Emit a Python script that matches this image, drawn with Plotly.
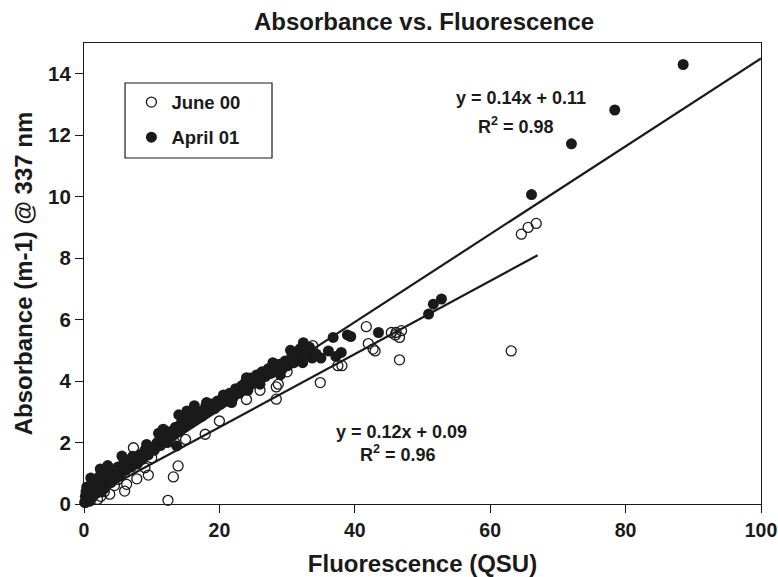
import plotly.graph_objects as go

# ---- data ----
april_x = [0.1, 0.2, 0.3, 0.5, 0.6, 0.8, 1.0, 1.2, 1.4, 1.6, 1.8, 2.0, 2.3, 2.5, 2.8, 3.0, 0.4, 0.9,
           3.3, 3.6, 4.0, 4.3, 4.7, 5.0, 5.4, 5.8, 6.2, 6.5, 7.0, 7.4, 7.8, 8.2, 8.6, 9.0, 9.5, 9.9,
           10.4, 10.8, 11.3, 11.7, 12.1, 12.6, 13.0, 13.5, 13.9, 14.3, 14.8, 15.2, 15.6, 16.0, 16.5,
           17.0, 17.4, 17.9, 18.3, 18.8, 19.3, 19.7, 14.0, 16.3, 13.7,
           20.2, 20.6, 21.1, 21.5, 22.0, 22.4, 22.9, 23.3, 23.8, 24.2, 24.6, 25.0, 25.5, 25.9, 26.3,
           26.8, 27.2, 27.6, 28.0, 28.5, 28.9, 29.3, 29.7, 30.1, 30.6, 31.0, 31.5, 31.9, 32.3, 32.8,
           33.3, 33.7, 34.3, 36.1, 36.8, 38.0, 38.9, 39.4, 43.5, 50.9, 51.6, 52.8,
           66.1, 72.0, 78.4, 88.5,
           2.2, 4.5, 6.8, 8.0, 11.0, 12.3, 15.0, 18.0, 21.8, 24.0, 26.0, 29.0, 31.2, 35.0, 37.2,
           2.4, 5.6, 9.25, 11.7, 15.2, 18.1, 20.6, 24.0, 27.9, 30.5, 32.4, 1.0, 3.5, 7.2]
april_y = [0.05, 0.25, 0.4, 0.15, 0.5, 0.3, 0.6, 0.2, 0.45, 0.75, 0.35, 0.55, 0.9, 0.4, 0.7, 0.5, 0.55, 0.1,
           0.85, 1.0, 0.7, 1.05, 0.9, 1.2, 0.95, 1.3, 1.1, 1.4, 1.2, 1.5, 1.3, 1.6, 1.45, 1.75, 1.6, 1.85,
           1.75, 2.0, 1.9, 2.2, 2.05, 2.35, 2.2, 2.5, 2.35, 2.6, 2.5, 2.85, 2.65, 2.9, 2.75,
           3.0, 2.85, 3.1, 3.0, 3.25, 3.1, 3.35, 2.9, 3.2, 1.89,
           3.25, 3.5, 3.35, 3.6, 3.45, 3.75, 3.6, 3.85, 3.95, 3.7, 4.1, 3.95, 4.2, 4.05, 4.3,
           4.15, 4.4, 4.25, 4.5, 4.35, 4.55, 4.4, 4.65, 4.5, 4.75, 4.6, 4.85, 5.05, 4.6, 4.9,
           5.1, 4.75, 4.88, 4.98, 5.42, 4.93, 5.5, 5.45, 5.58, 6.18, 6.5, 6.67,
           10.07, 11.72, 12.82, 14.3,
           0.6, 0.85, 1.45, 1.35, 2.3, 2.0, 2.6, 3.2, 3.3, 4.0, 3.9, 4.2, 4.9, 4.75, 4.8,
           1.14, 1.56, 1.94, 2.4, 3.03, 3.3, 3.55, 4.11, 4.6, 5.0, 5.25, 0.85, 1.25, 1.55]

june_x = [0.2, 0.5, 0.8, 1.0, 1.5, 2.0, 2.5, 3.0, 3.8, 4.5, 5.0, 6.0, 6.3, 7.3, 7.8, 9.0, 9.5,
          10.0, 11.7, 12.4, 13.2, 13.4, 13.9, 15.0, 17.9, 20.0, 24.0, 26.0, 28.4, 28.4, 28.7, 30.0,
          33.8, 34.9, 37.5, 38.1, 41.7, 42.0, 42.7, 43.0, 45.4, 46.0, 46.1, 46.6, 46.9, 46.6,
          63.1, 64.6, 65.6, 66.8]
june_y = [0.05, 0.3, 0.1, 0.2, 0.35, 0.15, 0.25, 0.4, 0.32, 0.6, 0.8, 0.42, 0.64, 1.83, 0.82, 1.18, 0.94,
          1.5, 2.43, 0.12, 0.88, 2.0, 1.24, 2.1, 2.27, 2.7, 3.4, 3.7, 3.81, 3.41, 3.9, 4.3,
          5.15, 3.95, 4.5, 4.5, 5.77, 5.22, 5.04, 4.98, 5.58, 5.5, 5.58, 5.42, 5.64, 4.69,
          4.98, 8.78, 9.0, 9.13]

# regression lines: slope, intercept, x extent
april_fit = dict(slope=0.143, intercept=0.2, x=[0, 100])
june_fit = dict(slope=0.119, intercept=0.12, x=[0, 67])

xticks = [0, 20, 40, 60, 80, 100]
yticks = [0, 2, 4, 6, 8, 10, 12, 14]

FONT = "Liberation Sans, Arial, sans-serif"
INK = "#1a1a1a"

fig = go.Figure()

for fit in (april_fit, june_fit):
    fig.add_trace(go.Scatter(
        x=fit["x"], y=[fit["slope"] * v + fit["intercept"] for v in fit["x"]],
        mode="lines", line=dict(color=INK, width=2.2), showlegend=False,
        hoverinfo="skip", cliponaxis=False))

fig.add_trace(go.Scatter(
    x=june_x, y=june_y, mode="markers", name="June 00",
    marker=dict(symbol="circle-open", size=10, color=INK, line=dict(width=1.3)),
    cliponaxis=False, legendgroup="j", legendrank=1))
fig.add_trace(go.Scatter(
    x=april_x, y=april_y, mode="markers", name="April 01",
    marker=dict(symbol="circle", size=11, color=INK, line=dict(width=0)),
    cliponaxis=False, legendgroup="a", legendrank=2))

fig.update_layout(
    width=778, height=577,
    margin=dict(l=84, r=17, t=43, b=73),
    paper_bgcolor="white", plot_bgcolor="white",
    font=dict(family=FONT, color=INK, size=16, weight="bold"),
    title=dict(text="Absorbance vs. Fluorescence", x=0.545, xanchor="center",
               y=0.962, yanchor="middle", font=dict(size=24, weight="bold")),
    showlegend=True,
    legend=dict(x=0.07, y=0.912, xanchor="left", yanchor="top",
                traceorder="grouped", tracegroupgap=8,
                bgcolor="rgba(0,0,0,0)", borderwidth=0,
                font=dict(size=18.5, weight="bold")),
    shapes=[dict(type="rect", xref="paper", yref="paper",
                 x0=0.0606, x1=0.2777, y0=0.7505, y1=0.9132,
                 line=dict(color=INK, width=1.2))],
    annotations=[
        dict(text="y = 0.14x + 0.11", xref="paper", yref="paper",
             x=(521 - 84) / 677, y=(504 - 86) / 461, showarrow=False,
             font=dict(size=18, weight="bold")),
        dict(text="R<sup>2</sup> = 0.98", xref="paper", yref="paper",
             x=(516 - 84) / 677, y=(504 - 112) / 461, showarrow=False,
             font=dict(size=18, weight="bold")),
        dict(text="y = 0.12x + 0.09", xref="paper", yref="paper",
             x=(401 - 84) / 677, y=(504 - 444) / 461, showarrow=False,
             font=dict(size=18, weight="bold")),
        dict(text="R<sup>2</sup> = 0.96", xref="paper", yref="paper",
             x=(398 - 84) / 677, y=(504 - 467) / 461, showarrow=False,
             font=dict(size=18, weight="bold")),
    ],
)

fig.update_xaxes(range=[0, 100], tickvals=xticks, ticks="outside", ticklen=8,
                 tickwidth=1.2, tickcolor=INK, showline=True, linecolor=INK,
                 linewidth=1.2, mirror=True, showgrid=False, zeroline=False,
                 automargin=False,
                 tickfont=dict(size=19.5, weight="bold"),
                 title=dict(text="Fluorescence (QSU)", font=dict(size=24, weight="bold"),
                            standoff=18))
fig.update_yaxes(range=[0, 15], tickvals=yticks, ticks="outside", ticklen=8,
                 tickwidth=1.2, tickcolor=INK, showline=True, linecolor=INK,
                 linewidth=1.2, mirror=True, showgrid=False, zeroline=False,
                 automargin=False,
                 tickfont=dict(size=20.5, weight="bold"),
                 title=dict(text="Absorbance (m-1) @ 337 nm", font=dict(size=24, weight="bold"),
                            standoff=8))

fig.write_html("out.html")
